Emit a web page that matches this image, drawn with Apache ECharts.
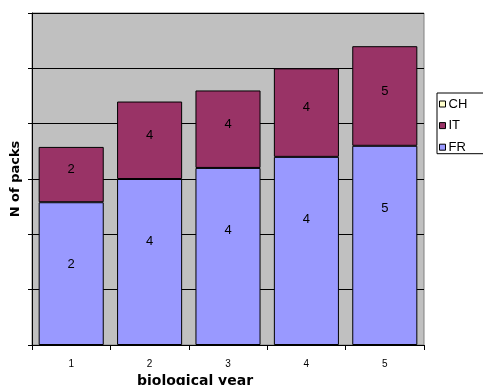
<!DOCTYPE html>
<html><head><meta charset="utf-8">
<script src="https://cdn.jsdelivr.net/npm/echarts@6/dist/echarts.min.js"></script>
<style>html,body{margin:0;padding:0;background:#fff}#c{width:483px;height:385px}</style>
</head><body><div id="c"></div>
<script>
const categories = ['1', '2', '3', '4', '5'];
const frValues = [12.9, 15, 16, 17, 18];
const itValues = [5, 7, 7, 8, 9];
const chValues = [0, 0, 0, 0, 0];
const frLabels = ['2', '4', '4', '4', '5'];
const itLabels = ['2', '4', '4', '4', '5'];

const chart = echarts.init(document.getElementById('c'), null, {renderer: 'canvas'});
const font = 'Liberation Sans, Arial, sans-serif';
const wideFont = 'DejaVu Sans, Liberation Sans, sans-serif';
function lab(arr) {
  return function (p) { return arr[p.dataIndex]; };
}
chart.setOption({
  animation: false,
  textStyle: {fontFamily: font},
  grid: {left: 32, top: 13, right: 59, bottom: 40, show: true,
         containLabel: false, outerBoundsMode: 'none',
         backgroundColor: '#C0C0C0', borderColor: '#808080', borderWidth: 1},
  legend: {
    orient: 'vertical', left: 437, top: 93,
    data: [{name: 'CH', itemStyle: {color: '#FFFFCC', borderColor: '#000', borderWidth: 1}},
           {name: 'IT', itemStyle: {color: '#993366', borderColor: '#000', borderWidth: 1}},
           {name: 'FR', itemStyle: {color: '#9999FF', borderColor: '#000', borderWidth: 1}}],
    icon: 'rect', itemWidth: 6, itemHeight: 6, itemGap: 8.6,
    padding: [4.5, 17, 0, 2],
    borderColor: '#000', borderWidth: 1, backgroundColor: '#fff', borderRadius: 0,
    textStyle: {fontSize: 13, color: '#000', fontFamily: font, padding: [0, 0, 0, -2]}
  },
  xAxis: {
    type: 'category', data: categories,
    name: 'biological year', nameLocation: 'middle', nameGap: 26,
    nameTextStyle: {fontSize: 14, fontWeight: 'bold', color: '#000', fontFamily: wideFont,
                    padding: [0, 66, 0, 0]},
    axisLine: {lineStyle: {color: '#000', width: 1}},
    axisTick: {show: true, length: 5, lineStyle: {color: '#000'}},
    axisLabel: {fontSize: 10, color: '#000', margin: 14, fontFamily: font},
    splitLine: {show: false}
  },
  yAxis: {
    type: 'value', min: 0, max: 30, interval: 5,
    name: 'N of packs', nameLocation: 'middle', nameGap: 10,
    nameTextStyle: {fontSize: 13, fontWeight: 'bold', color: '#000', fontFamily: wideFont},
    axisLine: {show: true, lineStyle: {color: '#000', width: 1}},
    axisTick: {show: true, length: 4, lineStyle: {color: '#000'}},
    axisLabel: {show: false},
    splitLine: {show: true, lineStyle: {color: '#000', width: 1}}
  },
  series: [
    {name: 'FR', type: 'bar', stack: 's', data: frValues, barCategoryGap: '17%',
     itemStyle: {color: '#9999FF', borderColor: '#000', borderWidth: 1},
     label: {show: true, position: 'insideTop', distance: 56, formatter: lab(frLabels),
             fontSize: 13, color: '#000', fontFamily: font}},
    {name: 'IT', type: 'bar', stack: 's', data: itValues,
     itemStyle: {color: '#993366', borderColor: '#000', borderWidth: 1},
     label: {show: true, position: 'inside', offset: [0, -5], formatter: lab(itLabels),
             fontSize: 13, color: '#000', fontFamily: font}},
    {name: 'CH', type: 'bar', stack: 's', data: chValues,
     itemStyle: {color: '#FFFFCC', borderColor: '#000', borderWidth: 0},
     label: {show: false}}
  ]
});
</script></body></html>
